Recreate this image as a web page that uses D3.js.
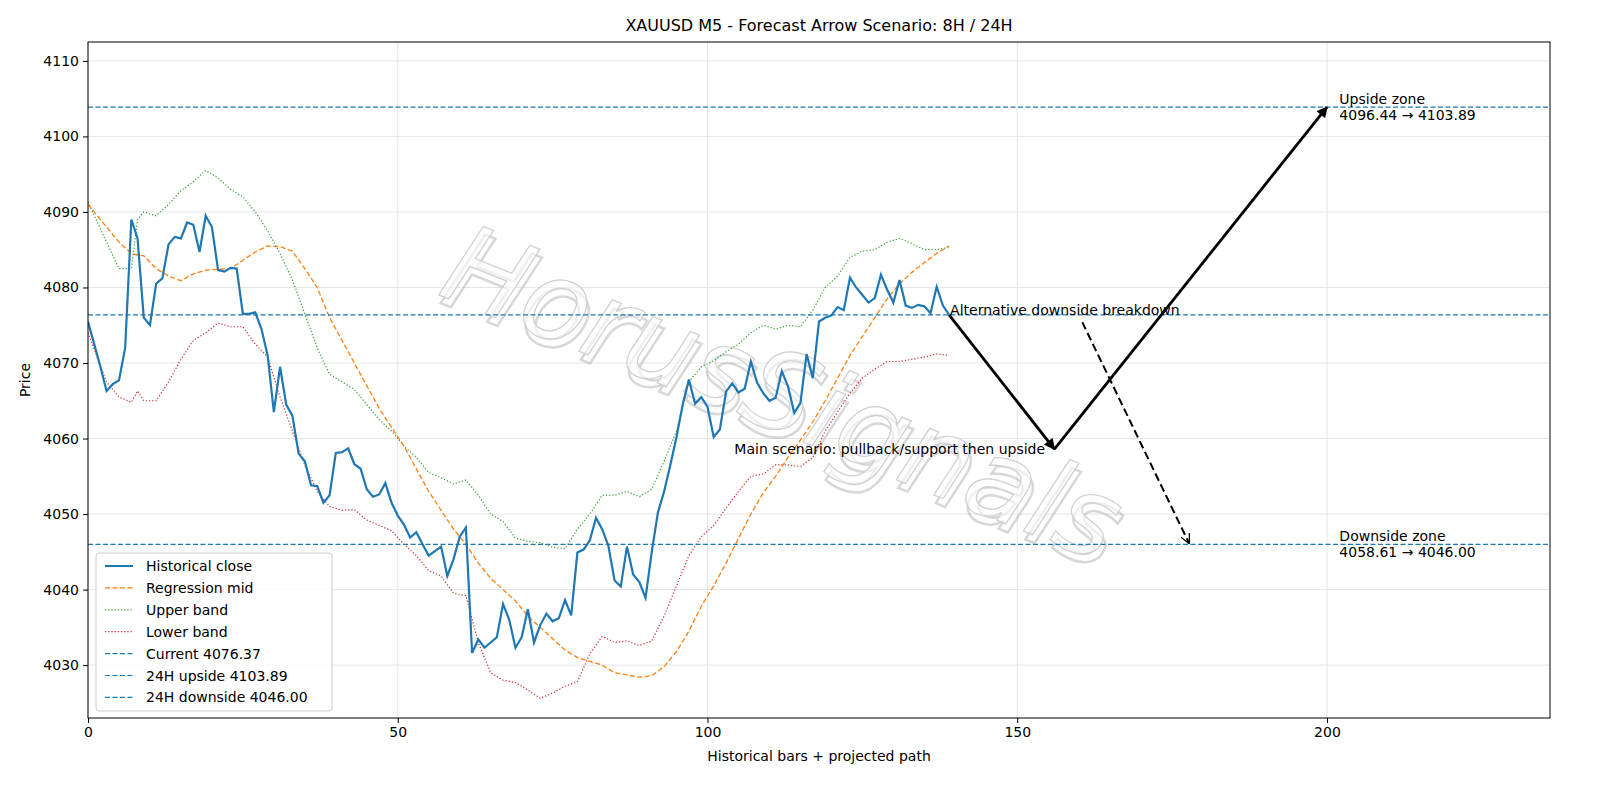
<!DOCTYPE html>
<html><head><meta charset="utf-8">
<script src="https://cdn.jsdelivr.net/npm/d3@7"></script>
<style>body{margin:0;background:#fff}text{font-family:"DejaVu Sans",sans-serif}</style>
</head><body><svg id="c" width="1600" height="800"></svg>
<script>
const closeVals=[4075.5,4072.5,4069.5,4066.3,4067.2,4067.7,4072,4089,4086.5,4076,4075,4080.5,4081.2,4085.7,4086.7,4086.5,4088.6,4088.3,4084.7,4089.5,4088,4082.3,4082.1,4082.6,4082.5,4076.5,4076.5,4076.7,4074.5,4071,4063.5,4069.5,4064.5,4063,4058,4057,4053.8,4053.7,4051.5,4052.5,4058.1,4058.2,4058.7,4056.6,4056,4053.3,4052.3,4052.6,4054.1,4051.5,4049.8,4048.6,4046.9,4047.6,4046,4044.5,4045.1,4045.7,4041.8,4044,4047,4048.2,4031.6,4033.4,4032.3,4033,4033.7,4038.1,4036,4032.3,4033.7,4037.4,4033,4035.3,4036.8,4035.8,4036.2,4038.6,4036.6,4044.9,4045.3,4046.5,4049.5,4048,4045.8,4041.2,4040.4,4045.7,4042,4041,4038.9,4045,4050.2,4053,4056.5,4060.2,4064.5,4067.8,4064.6,4065.5,4064.2,4060.2,4061.2,4066.2,4067.3,4066.1,4066.6,4070.2,4067.4,4066,4065,4065.4,4068.9,4066.9,4063.4,4064.7,4071.2,4068,4075.5,4076,4076.3,4077.4,4077,4081.3,4080,4079,4078,4078.6,4081.7,4079.7,4078,4081,4077.6,4077.3,4077.7,4077.5,4076.6,4080.1,4077.6,4076.4];
const bandX=[0,3,5,7,8,9,11,13,15,17,19,21,23,25,27,29,31,33,35,37,39,41,43,45,47,49,51,53,55,57,59,61,63,65,67,69,71,73,75,77,79,81,83,85,87,89,91,93,95,97,99,101,103,105,107,109,111,113,115,117,119,121,123,125,127,129,131,133,135,137,139];
const midVals=[4091,4088,4086,4084.5,4084.3,4084.2,4082.5,4081.5,4080.9,4081.8,4082.3,4082.4,4082.5,4083.6,4084.7,4085.5,4085.4,4084.8,4082.5,4080,4076,4073,4070,4067,4064,4061.5,4059,4056,4053,4050.5,4048,4046,4043.5,4041.5,4040,4038.5,4036.5,4035,4033.5,4032,4031,4030.5,4030,4029,4028.7,4028.4,4028.6,4029.8,4031.8,4034.5,4037.8,4040.5,4043.5,4046.8,4050,4052.8,4055,4057.5,4059.8,4062.2,4065,4068,4071,4073.5,4076,4078.5,4080.5,4082,4083.3,4084.5,4085.5];
const upperVals=[4091.3,4086,4082.5,4082.5,4089,4090,4089.5,4091,4092.8,4094,4095.5,4094.5,4093,4092,4090,4087.5,4084.5,4081,4076.5,4072,4068.5,4067.5,4066.5,4064.5,4062.5,4061,4059,4057.5,4055.5,4054.8,4054,4054.5,4052.5,4050,4049,4046.8,4046.4,4046.2,4045.6,4045.4,4048,4050,4052.5,4052.5,4053,4052.3,4053.3,4057,4061,4067.5,4069.5,4070.3,4071.5,4072.5,4074,4075,4074.5,4075,4074.8,4077,4080,4081.5,4084,4084.8,4085,4086,4086.5,4085.8,4085,4085,4085.3];
const lowerVals=[4074,4067.5,4065.5,4064.8,4066.3,4065,4065,4067.5,4070.5,4073,4074,4075.3,4074.8,4074.8,4072.5,4070.8,4065.5,4061,4056.5,4053,4051,4050.5,4050.6,4049.2,4048.5,4047.8,4046,4044.5,4042.5,4041.8,4039.5,4039.2,4033,4029,4028,4027.7,4026.7,4025.6,4026.3,4027.2,4027.8,4031.5,4033.8,4033,4033.2,4032.6,4033.2,4036.5,4040.5,4044.5,4047,4048.5,4050.8,4053,4055,4055.3,4056.5,4056.5,4056.3,4057.5,4061,4063.5,4066,4068,4069.2,4070.2,4070.2,4070.5,4070.8,4071.2,4071];
const current=4076.37, upside=4103.89, downside=4046.00;
const mainPath=[[139,4076.37],[156,4058.61],[200,4103.89]];
const altPath=[[160.5,4075.4],[177.7,4046.2]];
const xTicks=[0,50,100,150,200], yTicks=[4030,4040,4050,4060,4070,4080,4090,4100,4110];

const svg=d3.select("#c");
const L=88,R=1550,T=42,B=718;
const x=d3.scaleLinear().domain([0,236]).range([L,R]);
const y=d3.scaleLinear().domain([4023,4112.5]).range([B,T]);
svg.append("text").attr("x",(L+R)/2).attr("y",31).attr("text-anchor","middle").attr("font-size",16).text("XAUUSD M5 - Forecast Arrow Scenario: 8H / 24H");
const defs=svg.append("defs");
defs.append("clipPath").attr("id","cp").append("rect").attr("x",L).attr("y",T).attr("width",R-L).attr("height",B-T);
defs.append("marker").attr("id","ah").attr("viewBox","0 0 10 10").attr("refX",9).attr("refY",5).attr("markerWidth",12).attr("markerHeight",11).attr("orient","auto").attr("markerUnits","userSpaceOnUse")
 .append("path").attr("d","M0,0L10,5L0,10z").attr("fill","#000");
defs.append("marker").attr("id","ao").attr("viewBox","0 0 10 10").attr("refX",9).attr("refY",5).attr("markerWidth",10).attr("markerHeight",10).attr("orient","auto").attr("markerUnits","userSpaceOnUse")
 .append("path").attr("d","M0,0L10,5L0,10").attr("fill","none").attr("stroke","#000").attr("stroke-width",1.3);
svg.append("g").selectAll("line").data(xTicks).join("line").attr("x1",d=>x(d)).attr("x2",d=>x(d)).attr("y1",T).attr("y2",B).attr("stroke","#e5e5e5");
svg.append("g").selectAll("line").data(yTicks).join("line").attr("y1",d=>y(d)).attr("y2",d=>y(d)).attr("x1",L).attr("x2",R).attr("stroke","#e5e5e5");
// watermark
const wm=svg.append("g").attr("transform","translate(780,400) rotate(22)");
wm.append("text").attr("x",5).attr("y",7).attr("text-anchor","middle").attr("dominant-baseline","middle").attr("font-size",110).attr("font-style","italic").attr("fill","none").attr("stroke","#aaa").attr("stroke-width",2.5).attr("opacity",0.45).text("HorusSignals");
wm.append("text").attr("text-anchor","middle").attr("dominant-baseline","middle").attr("font-size",110).attr("font-style","italic").attr("fill","#fff").attr("fill-opacity",0.6).attr("stroke","#d0d0d0").attr("stroke-width",1.2).text("HorusSignals");
const g=svg.append("g").attr("clip-path","url(#cp)");
const ln=d3.line().x(d=>x(d[0])).y(d=>y(d[1]));
g.append("path").attr("d",ln(bandX.map((d,i)=>[d,upperVals[i]]))).attr("fill","none").attr("stroke","#2ca02c").attr("stroke-width",1.2).attr("stroke-dasharray","1.2,2");
g.append("path").attr("d",ln(bandX.map((d,i)=>[d,lowerVals[i]]))).attr("fill","none").attr("stroke","#d62728").attr("stroke-width",1.2).attr("stroke-dasharray","1.2,2");
g.append("path").attr("d",ln(bandX.map((d,i)=>[d,midVals[i]]))).attr("fill","none").attr("stroke","#ff7f0e").attr("stroke-width",1.3).attr("stroke-dasharray","5,2.5");
g.append("path").attr("d",ln(closeVals.map((d,i)=>[i,d]))).attr("fill","none").attr("stroke","#1f77b4").attr("stroke-width",2.2);
[current,upside,downside].forEach(v=>g.append("line").attr("x1",L).attr("x2",R).attr("y1",y(v)).attr("y2",y(v)).attr("stroke","#1f77b4").attr("stroke-width",1.2).attr("stroke-dasharray","5,2.5"));
g.append("line").attr("x1",x(mainPath[0][0])).attr("y1",y(mainPath[0][1])).attr("x2",x(mainPath[1][0])).attr("y2",y(mainPath[1][1])).attr("stroke","#000").attr("stroke-width",2.8).attr("marker-end","url(#ah)");
g.append("line").attr("x1",x(mainPath[1][0])).attr("y1",y(mainPath[1][1])).attr("x2",x(mainPath[2][0])).attr("y2",y(mainPath[2][1])).attr("stroke","#000").attr("stroke-width",2.8).attr("marker-end","url(#ah)");
g.append("line").attr("x1",x(altPath[0][0])).attr("y1",y(altPath[0][1])).attr("x2",x(altPath[1][0])).attr("y2",y(altPath[1][1])).attr("stroke","#000").attr("stroke-width",2).attr("stroke-dasharray","8,4").attr("marker-end","url(#ao)");
svg.append("text").attr("x",x(139)+1).attr("y",y(4077)+5).attr("font-size",14).text("Alternative downside breakdown");
svg.append("text").attr("x",x(154.5)).attr("y",y(4058.61)+5).attr("text-anchor","end").attr("font-size",14).text("Main scenario: pullback/support then upside");
[[upside,"Upside zone","4096.44 → 4103.89"],[downside,"Downside zone","4058.61 → 4046.00"]].forEach(([v,a,b])=>{
 const t=svg.append("text").attr("x",x(202)).attr("font-size",14);
 t.append("tspan").attr("x",x(202)).attr("y",y(v)-3).text(a);
 t.append("tspan").attr("x",x(202)).attr("y",y(v)+13).text(b);
});
const fmt=d3.format("d");
svg.append("g").attr("transform",`translate(0,${B})`).call(d3.axisBottom(x).tickValues(xTicks).tickFormat(fmt).tickSize(5).tickPadding(4)).call(a=>{a.selectAll("text").attr("font-size",14).attr("fill","#000");a.select(".domain").remove();});
svg.append("g").attr("transform",`translate(${L},0)`).call(d3.axisLeft(y).tickValues(yTicks).tickFormat(fmt).tickSize(5).tickPadding(4)).call(a=>{a.selectAll("text").attr("font-size",14).attr("fill","#000");a.select(".domain").remove();});
svg.append("rect").attr("x",L).attr("y",T).attr("width",R-L).attr("height",B-T).attr("fill","none").attr("stroke","#000").attr("stroke-width",1);
svg.append("text").attr("x",(L+R)/2).attr("y",761).attr("text-anchor","middle").attr("font-size",14).text("Historical bars + projected path");
svg.append("text").attr("transform",`translate(30,${(T+B)/2}) rotate(-90)`).attr("text-anchor","middle").attr("font-size",14).text("Price");
const items=[["Historical close","#1f77b4","",2],["Regression mid","#ff7f0e","5,2.5",1.3],["Upper band","#2ca02c","1.2,2",1.2],["Lower band","#d62728","1.2,2",1.2],["Current 4076.37","#1f77b4","5,2.5",1.2],["24H upside 4103.89","#1f77b4","5,2.5",1.2],["24H downside 4046.00","#1f77b4","5,2.5",1.2]];
const lg=svg.append("g").attr("transform","translate(96,553)");
lg.append("rect").attr("width",236).attr("height",158).attr("rx",3).attr("fill","#fff").attr("fill-opacity",0.8).attr("stroke","#ccc");
items.forEach((it,i)=>{const yy=13+i*21.9;
 lg.append("line").attr("x1",9).attr("x2",37).attr("y1",yy).attr("y2",yy).attr("stroke",it[1]).attr("stroke-width",it[3]).attr("stroke-dasharray",it[2]);
 lg.append("text").attr("x",50).attr("y",yy+5).attr("font-size",14).text(it[0]);});
</script></body></html>
